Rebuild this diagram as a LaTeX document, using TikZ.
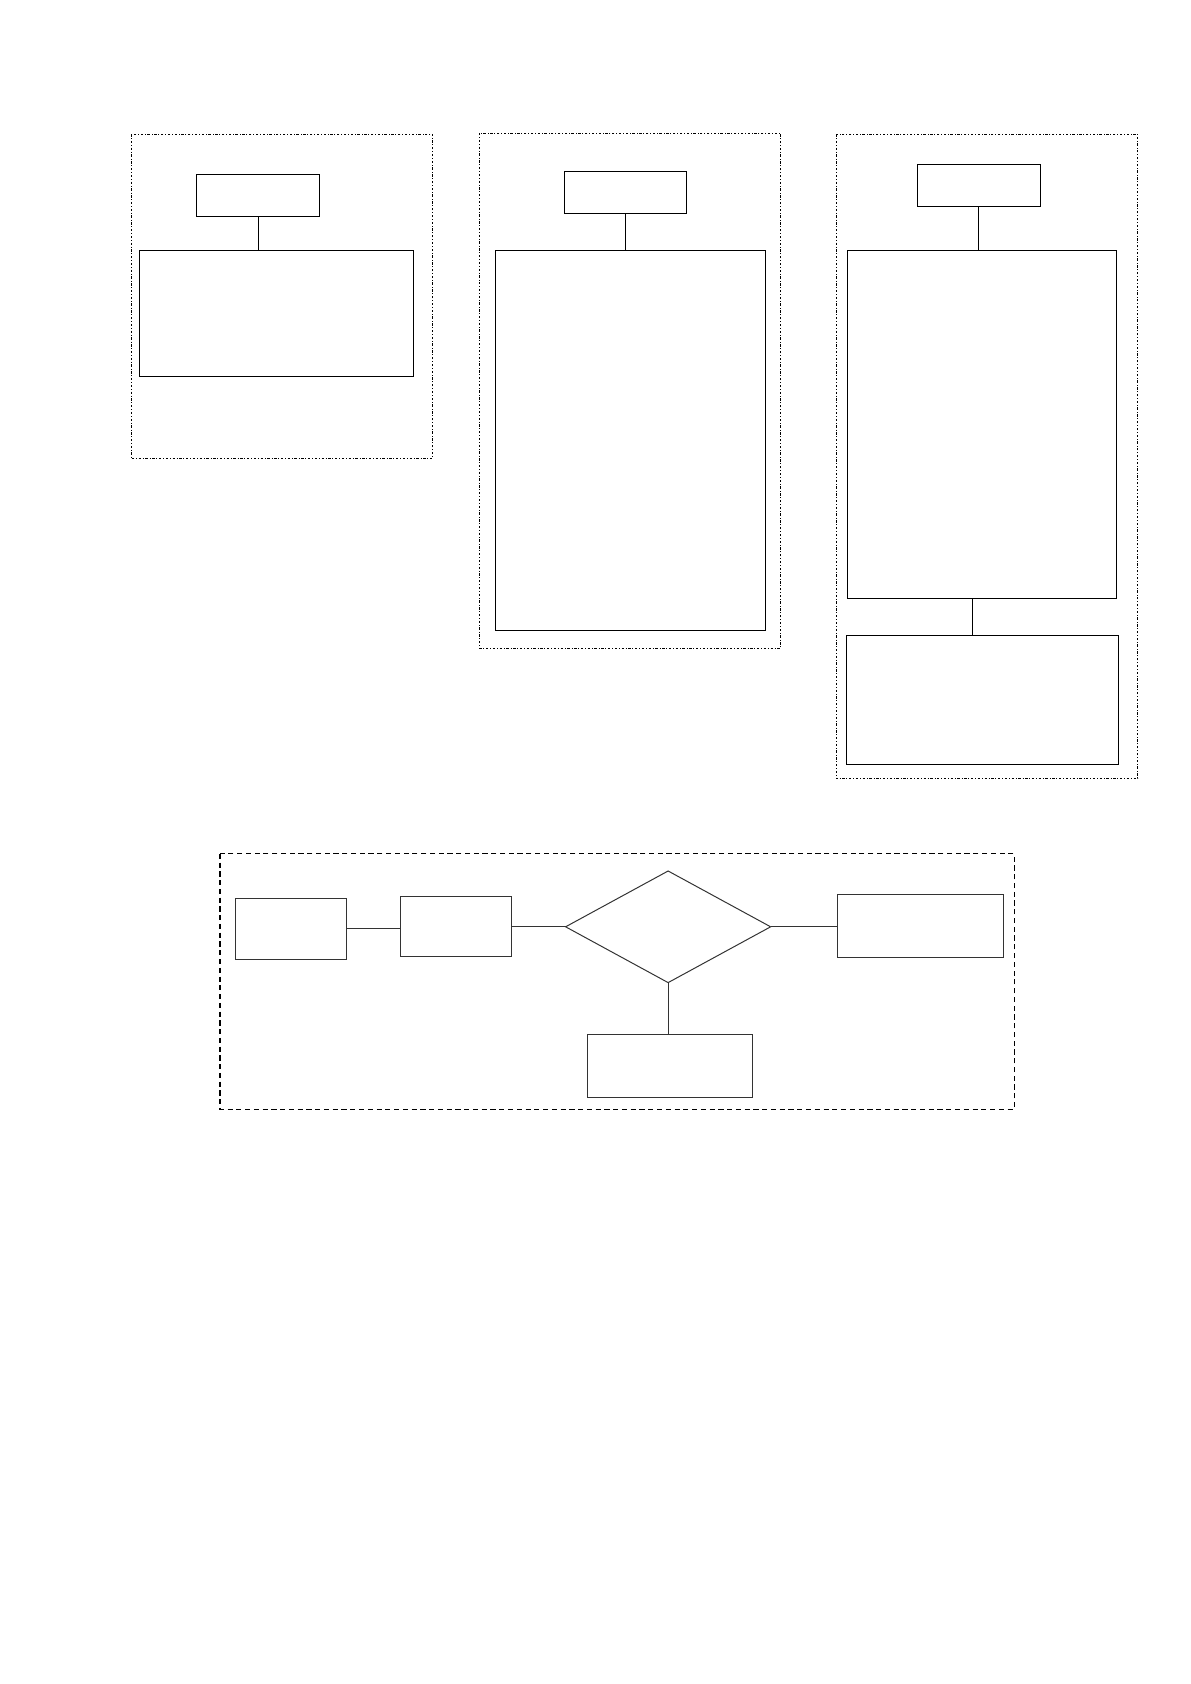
\documentclass[tikz,border=0pt]{standalone}
\usepackage{tikz}
\usetikzlibrary{shapes.geometric, positioning}
\newcommand{\px}{0.18937mm}

\begin{document}
\begin{tikzpicture}[x=\px, y=-\px, line width=0.5pt,
    box/.style = {draw, rectangle, inner sep=0pt, outer sep=0pt},
    frame/.style = {line width=0.4pt, dash pattern=on 1.2pt off 0.9pt on 0.4pt off 0.9pt},
    dashframe/.style = {line width=0.6pt, dash pattern=on 2.6pt off 1.8pt}]
    \useasboundingbox (0,0) rectangle (1109,1569);

    % left group
    \draw[frame] (122,125) rectangle (403,427);
    \node[box, minimum width=115*\px, minimum height=39*\px] (head1) at (240.5,182) {};
    \node[box, minimum width=255*\px, minimum height=117*\px] (body1) at (257.5,292) {};
    \draw (head1.south) -- (head1.south |- body1.north);

    % middle group
    \draw[frame] (447,124) rectangle (727,604);
    \node[box, minimum width=114*\px, minimum height=39*\px] (head2) at (583,179) {};
    \node[box, minimum width=251*\px, minimum height=354*\px] (body2) at (587.5,410.5) {};
    \draw (head2.south) -- (head2.south |- body2.north);

    % right group
    \draw[frame] (779,125) rectangle (1060,725);
    \node[box, minimum width=115*\px, minimum height=39*\px] (head3) at (912,173) {};
    \node[box, minimum width=250*\px, minimum height=324*\px] (body3) at (915,395.5) {};
    \node[box, minimum width=253*\px, minimum height=120*\px] (foot3) at (915.5,652.5) {};
    \draw (head3.south) -- (head3.south |- body3.north);
    \draw ([xshift=-9*\px]body3.south) -- ([xshift=-9*\px]body3.south |- foot3.north);

    % bottom flow
    \draw[dashframe] (205,795.5) rectangle (945,1033.5);
    \begin{scope}[black!80]
    \node[box, minimum width=104*\px, minimum height=56*\px] (stepa) at (271,865.5) {};
    \node[box, minimum width=104*\px, minimum height=56*\px] (stepb) at (425,863.5) {};
    \node[draw, diamond, inner sep=0pt, outer sep=0pt, minimum width=191*\px, minimum height=104*\px] (check) at (622.5,863.5) {};
    \node[box, minimum width=155*\px, minimum height=59*\px] (yes) at (857.5,863) {};
    \node[box, minimum width=154*\px, minimum height=59*\px] (no) at (624,993) {};

    \draw (stepa.east) -- (stepa.east -| stepb.west);
    \draw (stepb.east) -- (check.west);
    \draw (check.east) -- (check.east -| yes.west);
    \draw (check.south) -- (check.south |- no.north);
    \end{scope}
\end{tikzpicture}
\end{document}
